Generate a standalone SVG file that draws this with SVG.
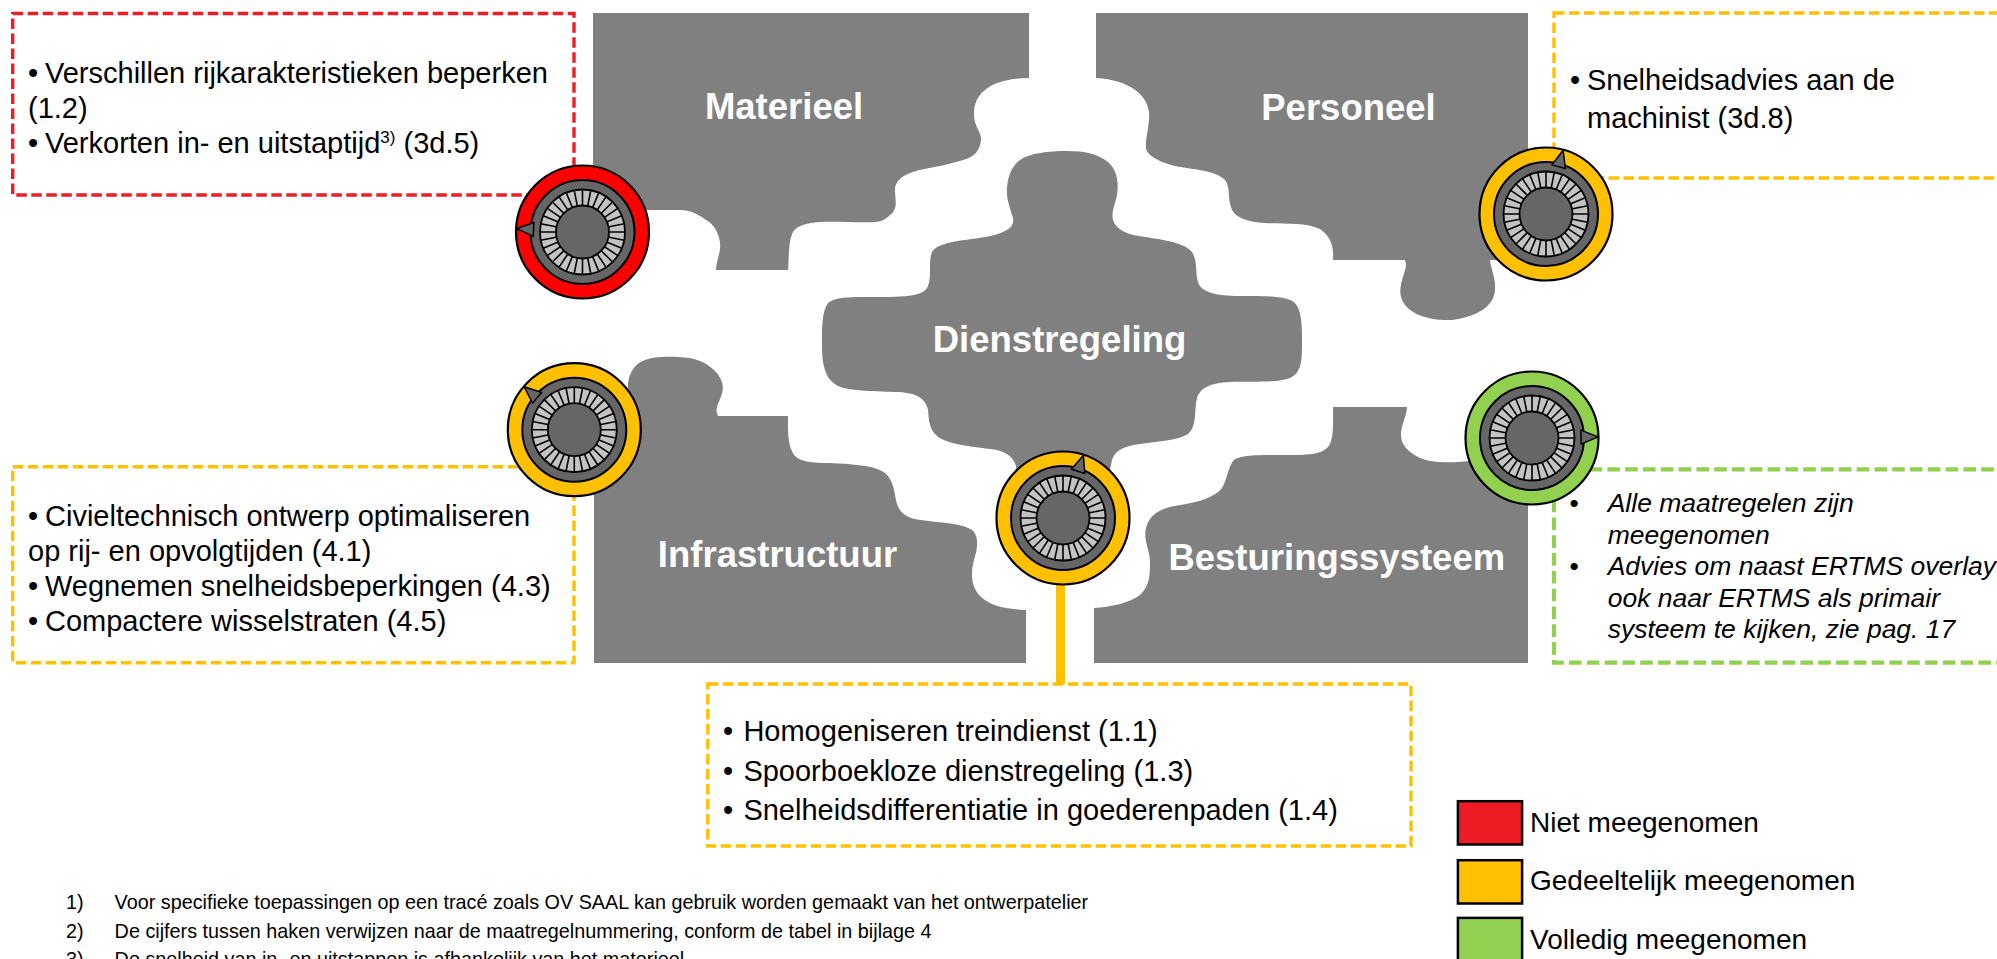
<svg xmlns="http://www.w3.org/2000/svg" width="1997" height="959" viewBox="0 0 1997 959">
<style>
.piece{fill:#808080}
.lbl{font-family:"Liberation Sans",Arial,sans-serif;font-weight:bold;font-size:36.5px;fill:#fff;text-anchor:middle}
.t{font-family:"Liberation Sans",Arial,sans-serif;font-size:29px;fill:#000}
.gi{font-family:"Liberation Sans",Arial,sans-serif;font-size:26.5px;font-style:italic;fill:#000}
.gb{font-family:"Liberation Sans",Arial,sans-serif;font-size:26.5px;fill:#000}
.fn{font-family:"Liberation Sans",Arial,sans-serif;font-size:19.8px;fill:#000}
.lg{font-family:"Liberation Sans",Arial,sans-serif;font-size:28px;fill:#000}
.box{fill:none;stroke-width:3.4;stroke-dasharray:10.5 4.5}
.bred{stroke:#ee1c24}
.byel{stroke:#ffc000}
.bgrn{stroke:#92d050;stroke-width:4.2;stroke-dasharray:12.6 5.2}
.ring{stroke:#000;stroke-width:2.2}
.ptr{fill:#666;stroke:#000;stroke-width:1.5;stroke-linejoin:round}
.sw{stroke:#000;stroke-width:2.5}
</style>
<defs>
<g id="core">
<circle r="52" fill="#666" stroke="#000" stroke-width="2"/>
<circle r="34.5" fill="none" stroke="#c3c3c3" stroke-width="16"/>
<path d="M-42.5,0 L42.5,0 M-41.68,-8.29 L41.68,8.29 M-39.26,-16.26 L39.26,16.26 M-35.34,-23.61 L35.34,23.61 M-30.05,-30.05 L30.05,30.05 M-23.61,-35.34 L23.61,35.34 M-16.26,-39.26 L16.26,39.26 M-8.29,-41.68 L8.29,41.68 M0,-42.5 L0,42.5 M8.29,-41.68 L-8.29,41.68 M16.26,-39.26 L-16.26,39.26 M23.61,-35.34 L-23.61,35.34 M30.05,-30.05 L-30.05,30.05 M35.34,-23.61 L-35.34,23.61 M39.26,-16.26 L-39.26,16.26 M41.68,-8.29 L-41.68,8.29" fill="none" stroke="#000" stroke-width="1.6"/>
<circle r="42.5" fill="none" stroke="#000" stroke-width="1.8"/>
<circle r="26.5" fill="#666" stroke="#000" stroke-width="1.8"/>
</g>
<path id="ptr" d="M66,0 L49,-7 L49,7 Z"/>
</defs>

<rect width="1997" height="959" fill="#fff"/>

<!-- puzzle pieces -->
<g id="piece-materieel">
<path class="piece" d="M593,13 H1029 V78 C1000,78 975,88 974,112 C973,126 982,132 981,140 C980,150 975,157 963,160 C945,166 925,168 913,172 C900,176 894,183 895,192 C896,203 897,210 890,215 C885,220 882,221 876,222 C860,223 835,221 820,222 C805,223 795,226 792,234 C788,245 789,260 788,270 H716 C716,262 721,252 720,243 C719,233 714,224 706,220 C698,214 690,210 680,210 H593 Z"/>
<text class="lbl" x="784" y="119">Materieel</text>
</g>
<g id="piece-personeel">
<path class="piece" d="M1096,13 H1528 V260 H1490 C1490,266 1496,278 1495,290 C1494,305 1480,316 1452,320 C1425,321 1405,312 1401,297 C1398,285 1406,272 1406,264 L1405,260 H1333 C1334,245 1330,236 1320,229 C1305,222 1285,224 1265,223 C1248,222 1236,218 1232,210 C1227,198 1231,188 1225,180 C1215,170 1195,170 1175,166 C1160,162 1147,156 1146,148 C1145,138 1150,126 1149,112 C1147,95 1130,80 1096,78 Z"/>
<text class="lbl" x="1348.5" y="120">Personeel</text>
</g>
<g id="piece-dienstregeling">
<path class="piece" d="M1067,151 C1085,151 1098,154 1108,162 C1117,170 1119,182 1117,195 C1115,205 1111,212 1113,220 C1116,230 1128,235 1145,237 C1165,240 1185,243 1192,252 C1198,262 1195,272 1198,282 C1201,292 1215,296 1240,296 C1268,296 1285,296 1294,302 C1302,310 1302,325 1302,345 C1302,362 1301,373 1290,378 C1278,383 1255,381 1230,382 C1210,383 1200,388 1197,398 C1194,410 1197,423 1190,432 C1183,440 1160,441 1140,444 C1125,446 1115,450 1112,460 L1108,480 C1100,510 1080,535 1063,535 C1046,535 1025,510 1018,480 L1016,466 C1013,455 1002,450 990,449 C965,446 945,443 937,436 C928,428 929,418 928,410 C926,398 915,392 895,392 C870,391 850,391 838,386 C825,379 822,365 822,345 C822,325 822,312 828,303 C836,296 855,297 880,297 C910,297 925,295 928,286 C932,275 928,262 932,252 C938,242 960,241 985,237 C1005,233 1015,228 1013,218 C1010,208 1006,198 1007,188 C1008,175 1012,166 1020,160 C1030,153 1048,151 1067,151 Z"/>
<text class="lbl" x="1059.5" y="352">Dienstregeling</text>
</g>
<g id="piece-infrastructuur">
<path class="piece" d="M594,416 H628 L628,383 C630,372 634,364 645,360 C655,356 672,356 690,358 C705,361 718,370 722,382 C725,392 719,400 717,407 C716,411 717,414 718,416 H788 C788,428 787,445 794,455 C800,462 812,463 830,463 C850,464 870,465 882,471 C893,477 894,490 896,500 C898,510 903,516 915,519 C935,523 960,522 972,530 C980,537 977,550 974,560 C971,572 970,585 980,596 C990,606 1005,609 1026,610 V663 H594 Z"/>
<text class="lbl" x="777.5" y="567">Infrastructuur</text>
</g>
<g id="piece-besturingssysteem">
<path class="piece" d="M1094,663 V608 C1110,607 1130,603 1140,595 C1150,585 1150,575 1150,562 C1150,550 1143,540 1146,528 C1150,514 1160,508 1180,505 C1200,502 1215,497 1222,488 C1228,478 1228,465 1235,459 C1245,454 1265,455 1290,455 C1310,455 1322,454 1328,447 C1334,440 1333,425 1333,407 H1407 C1407,415 1401,425 1401,435 C1401,445 1408,452 1420,458 C1432,463 1450,463 1470,461 C1485,455 1490,440 1490,407 H1528 V663 Z"/>
<text class="lbl" x="1336.8" y="570">Besturingssysteem</text>
</g>

<!-- callout boxes -->
<g id="box-materieel">
<rect class="box bred" x="12.7" y="13.5" width="561.3" height="181.5"/>
<text class="t" x="28" y="83">•</text>
<text class="t" x="45" y="83">Verschillen rijkarakteristieken beperken</text>
<text class="t" x="28" y="118">(1.2)</text>
<text class="t" x="28" y="153">•</text>
<text class="t" x="45" y="153">Verkorten in- en uitstaptijd<tspan font-size="17" dy="-10">3)</tspan><tspan dy="10"> (3d.5)</tspan></text>
</g>
<g id="box-personeel">
<rect class="box byel" x="1554" y="13" width="460" height="165"/>
<text class="t" x="1570" y="90">•</text>
<text class="t" x="1587" y="90">Snelheidsadvies aan de</text>
<text class="t" x="1587" y="128">machinist (3d.8)</text>
</g>
<g id="box-infrastructuur">
<rect class="box byel" x="12.7" y="466.7" width="561.3" height="196"/>
<text class="t" x="28" y="526">•</text>
<text class="t" x="45" y="526">Civieltechnisch ontwerp optimaliseren</text>
<text class="t" x="28" y="561">op rij- en opvolgtijden (4.1)</text>
<text class="t" x="28" y="596">•</text>
<text class="t" x="45" y="596">Wegnemen snelheidsbeperkingen (4.3)</text>
<text class="t" x="28" y="631">•</text>
<text class="t" x="45" y="631">Compactere wisselstraten (4.5)</text>
</g>
<g id="box-besturingssysteem">
<rect class="box bgrn" x="1554" y="469.3" width="460" height="193.4"/>
<text class="gb" x="1569.5" y="512">•</text>
<text class="gi" x="1607.7" y="512">Alle maatregelen zijn</text>
<text class="gi" x="1607.7" y="543.5">meegenomen</text>
<text class="gb" x="1569.5" y="575">•</text>
<text class="gi" x="1607.7" y="575">Advies om naast ERTMS overlay</text>
<text class="gi" x="1607.7" y="606.5">ook naar ERTMS als primair</text>
<text class="gi" x="1607.7" y="638">systeem te kijken, zie pag. 17</text>
</g>
<g id="box-dienstregeling">
<rect class="box byel" x="707.8" y="684" width="703.2" height="162"/>
<text class="t" x="723" y="741">•</text>
<text class="t" x="743.4" y="741">Homogeniseren treindienst (1.1)</text>
<text class="t" x="723" y="780.5">•</text>
<text class="t" x="743.4" y="780.5">Spoorboekloze dienstregeling (1.3)</text>
<text class="t" x="723" y="820">•</text>
<text class="t" x="743.4" y="820">Snelheidsdifferentiatie in goederenpaden (1.4)</text>
</g>

<!-- connectors -->
<g id="connectors">
<line x1="1060.5" y1="575" x2="1060.5" y2="684" stroke="#ffc000" stroke-width="9"/>
</g>

<!-- gauges -->
<g id="gauge-materieel" transform="translate(582.5,232)">
<circle r="66.5" class="ring" fill="#ff0000"/>
<use href="#core"/>
<use href="#ptr" class="ptr" transform="rotate(183)"/>
</g>
<g id="gauge-personeel" transform="translate(1546,214)">
<circle r="66.5" class="ring" fill="#ffc000"/>
<use href="#core"/>
<use href="#ptr" class="ptr" transform="rotate(285)"/>
</g>
<g id="gauge-infrastructuur" transform="translate(574.3,429.7)">
<circle r="66.5" class="ring" fill="#ffc000"/>
<use href="#core"/>
<use href="#ptr" class="ptr" transform="rotate(220.6)"/>
</g>
<g id="gauge-dienstregeling" transform="translate(1063,518)">
<circle r="66.5" class="ring" fill="#ffc000"/>
<use href="#core"/>
<use href="#ptr" class="ptr" transform="rotate(288)"/>
</g>
<g id="gauge-besturingssysteem" transform="translate(1532,438)">
<circle r="66.5" class="ring" fill="#92d050"/>
<use href="#core"/>
<use href="#ptr" class="ptr" transform="rotate(359)"/>
</g>

<!-- legend -->
<g id="legend">
<rect class="sw" x="1457.9" y="801.2" width="64.2" height="43.3" fill="#ed1c24"/>
<rect class="sw" x="1457.9" y="860.2" width="64.2" height="43.3" fill="#ffc000"/>
<rect class="sw" x="1457.9" y="917.9" width="64.2" height="43.3" fill="#92d050"/>
<text class="lg" x="1530" y="832">Niet meegenomen</text>
<text class="lg" x="1530" y="890">Gedeeltelijk meegenomen</text>
<text class="lg" x="1530" y="948.5">Volledig meegenomen</text>
</g>

<!-- footnotes -->
<g id="footnotes">
<text class="fn" x="66" y="909">1)</text>
<text class="fn" x="114.6" y="909">Voor specifieke toepassingen op een tracé zoals OV SAAL kan gebruik worden gemaakt van het ontwerpatelier</text>
<text class="fn" x="66" y="937.5">2)</text>
<text class="fn" x="114.6" y="937.5">De cijfers tussen haken verwijzen naar de maatregelnummering, conform de tabel in bijlage 4</text>
<text class="fn" x="66" y="966">3)</text>
<text class="fn" x="114.6" y="966">De snelheid van in- en uitstappen is afhankelijk van het materieel</text>
</g>
</svg>
